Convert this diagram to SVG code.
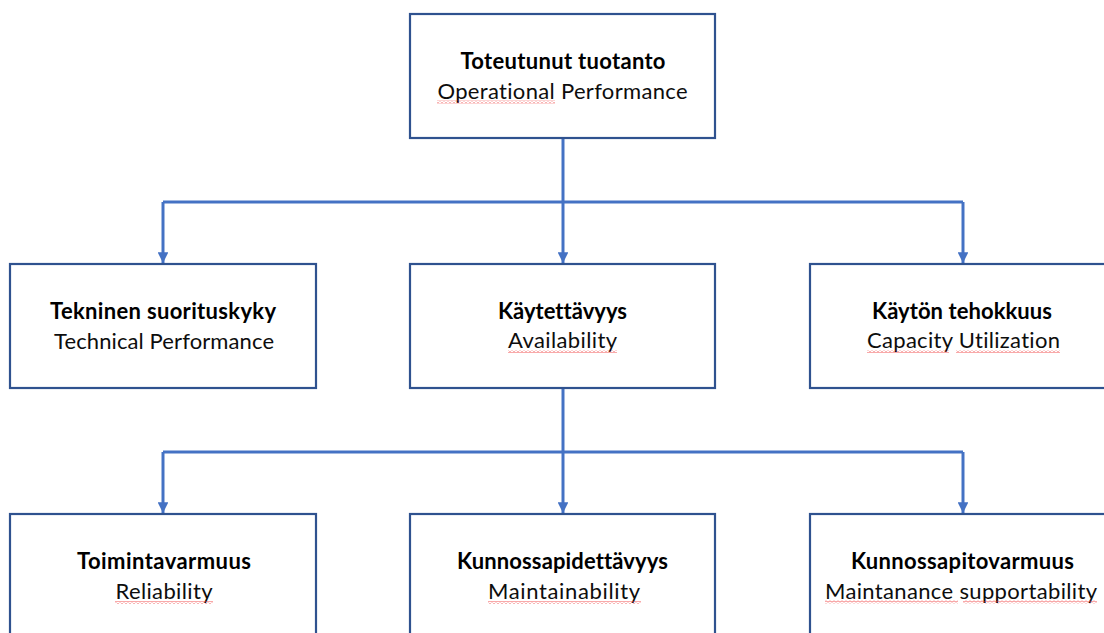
<svg xmlns="http://www.w3.org/2000/svg" width="1104" height="633" viewBox="0 0 1104 633">
  <style>
    .box { fill: #ffffff; stroke: #2F528F; stroke-width: 2.2; }
    .link { fill: none; stroke: #4472C4; stroke-width: 3; }
    .t { font-family: Lato, "Open Sans", sans-serif; font-size: 22px; fill: #0d0d0d; text-anchor: middle; font-variant-ligatures: none; }
    .b { font-weight: bold; fill: #000000; }
    .sp { fill: url(#wave); }
  </style>
  <defs>
    <marker id="arrow" viewBox="0 0 10 10" refX="10" refY="5" markerWidth="3.6" markerHeight="3.6" markerUnits="strokeWidth" orient="auto">
      <path d="M0,0 L10,5 L0,10 Z" fill="#4472C4"/>
    </marker>
    <!-- red wavy spell-check underline -->
    <pattern id="wave" patternUnits="userSpaceOnUse" x="0" y="0" width="4" height="3">
      <polyline points="0,2.5 2,0.5 4,2.5" fill="none" stroke="#F04040" stroke-width="0.9"/>
    </pattern>
  </defs>
  <rect width="1104" height="633" fill="#ffffff"/>

  <g id="connectors">
    <path class="link" d="M563,138 V202"/>
    <path class="link" d="M163,202 H963"/>
    <path class="link" d="M163,202 V263" marker-end="url(#arrow)"/>
    <path class="link" d="M563,202 V263" marker-end="url(#arrow)"/>
    <path class="link" d="M963,202 V263" marker-end="url(#arrow)"/>
    <path class="link" d="M563,388 V452"/>
    <path class="link" d="M163,452 H963"/>
    <path class="link" d="M163,452 V513" marker-end="url(#arrow)"/>
    <path class="link" d="M563,452 V513" marker-end="url(#arrow)"/>
    <path class="link" d="M963,452 V513" marker-end="url(#arrow)"/>
  </g>

  <g id="operational-performance">
    <rect class="box" x="410" y="14" width="305" height="124"/>
    <text class="t b" x="563" y="69" textLength="205">Toteutunut tuotanto</text>
    <text class="t" x="562.5" y="99" textLength="250">Operational Performance</text>
    <rect class="sp" x="437" y="100.5" width="118" height="3"/>
  </g>

  <g id="technical-performance">
    <rect class="box" x="10" y="264" width="306" height="124"/>
    <text class="t b" x="163" y="319" textLength="226">Tekninen suorituskyky</text>
    <text class="t" x="164" y="349" textLength="220">Technical Performance</text>
  </g>

  <g id="availability">
    <rect class="box" x="410" y="264" width="305" height="124"/>
    <text class="t b" x="562.5" y="319" textLength="129">Käytettävyys</text>
    <text class="t" x="562.5" y="348" textLength="109">Availability</text>
    <rect class="sp" x="508" y="350" width="109" height="3"/>
  </g>

  <g id="capacity-utilization">
    <rect class="box" x="810" y="264" width="306" height="124"/>
    <text class="t b" x="962" y="319" textLength="180">Käytön tehokkuus</text>
    <text class="t" x="963.5" y="348" textLength="193">Capacity Utilization</text>
    <rect class="sp" x="867" y="350" width="82" height="3"/>
    <rect class="sp" x="956" y="350" width="104" height="3"/>
  </g>

  <g id="reliability">
    <rect class="box" x="10" y="514" width="306" height="130"/>
    <text class="t b" x="164" y="569" textLength="174">Toimintavarmuus</text>
    <text class="t" x="164" y="599" textLength="97">Reliability</text>
    <rect class="sp" x="115" y="601" width="98" height="3"/>
  </g>

  <g id="maintainability">
    <rect class="box" x="410" y="514" width="305" height="130"/>
    <text class="t b" x="562.5" y="569" textLength="211">Kunnossapidettävyys</text>
    <text class="t" x="564" y="599" textLength="152">Maintainability</text>
    <rect class="sp" x="488" y="601" width="153" height="3"/>
  </g>

  <g id="maintenance-supportability">
    <rect class="box" x="810" y="514" width="306" height="130"/>
    <text class="t b" x="962.5" y="569" textLength="223">Kunnossapitovarmuus</text>
    <text class="t" x="961" y="599" textLength="272">Maintanance supportability</text>
    <rect class="sp" x="825" y="600.5" width="133" height="3"/>
    <rect class="sp" x="963" y="600.5" width="134" height="3"/>
  </g>
</svg>
